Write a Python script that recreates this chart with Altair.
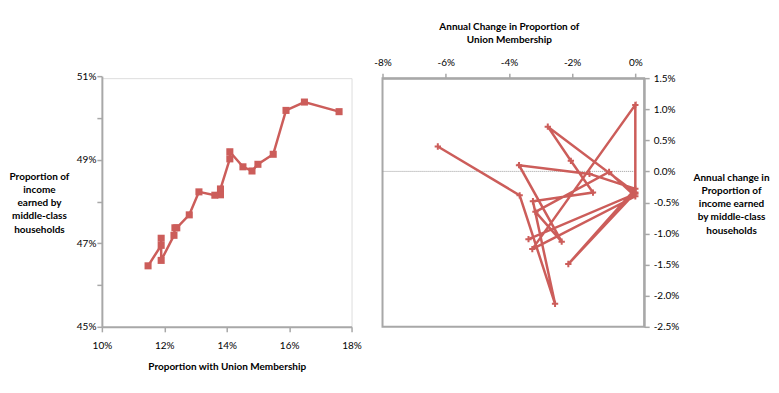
import altair as alt
import pandas as pd

# Left panel: levels over time (time order, earliest first), in percent
union_share = [17.6, 16.49, 15.9, 15.49, 15.0, 14.81, 14.52, 14.1, 14.1, 13.8, 13.8,
               13.62, 13.11, 12.8, 12.4, 12.34, 12.31, 11.9, 11.9, 11.9, 11.48]
income_share = [50.15, 50.38, 50.18, 49.13, 48.89, 48.73, 48.83, 49.19, 49.02, 48.3, 48.16,
                48.15, 48.23, 47.68, 47.37, 47.37, 47.19, 46.59, 47.12, 46.95, 46.46]

# Right panel: annual changes (time order), in percent
union_change = [-6.25, -3.66, -2.54, -3.24, -1.34, -2.04, -2.77, 0.0, -2.12, 0.0,
                -1.45, -3.68, -2.33, -3.16, -0.83, 0.0, -3.26, 0.0, 0.0, -3.38]
income_change = [0.40, -0.385, -2.13, -0.48, -0.34, 0.17, 0.72, -0.34, -1.49, -0.28,
                 -0.04, 0.10, -1.13, -0.65, -0.01, -0.40, -1.25, 1.07, -0.36, -1.09]

left_x_ticks = [10, 12, 14, 16, 18]
left_y_ticks = [45, 46, 47, 48, 49, 50, 51]
right_x_ticks = [-8, -6, -4, -2, 0]
right_y_ticks = [1.5, 1.0, 0.5, 0.0, -0.5, -1.0, -1.5, -2.0, -2.5]

RED = "#cc5d5a"
GRAY = "#a8a8a8"
FONT = "Lato"

left_df = pd.DataFrame({"t": range(len(union_share)), "u": union_share, "inc": income_share})
# right panel plotted as fractions so the axes can use percent formats
right_df = pd.DataFrame({"t": range(len(union_change)),
                         "du": [v / 100 for v in union_change],
                         "di": [v / 100 for v in income_change]})
zero_df = pd.DataFrame({"du": [-0.08], "du2": [0.0], "di": [0.0]})

axis_common = dict(
    domainColor=GRAY, domainWidth=2, tickColor=GRAY, tickWidth=1.5, tickSize=5,
    grid=False, labelFont=FONT, labelFontSize=10, labelColor="#000000", labelOverlap=False,
    labelFlush=False,
    titleFont=FONT, titleFontSize=10, titleFontWeight="bold", titleColor="#000000",
)

lx = alt.X("u:Q", scale=alt.Scale(domain=[10, 18], nice=False, zero=False),
           axis=alt.Axis(values=left_x_ticks, labelExpr="datum.value + '%'",
                         title="Proportion with Union Membership", labelPadding=9,
                         titlePadding=11, **axis_common))
ly = alt.Y("inc:Q", scale=alt.Scale(domain=[45, 51], nice=False, zero=False, range=[249, -2]),
           axis=alt.Axis(values=left_y_ticks,
                         labelExpr="datum.value % 2 == 1 ? datum.value + '%' : ''",
                         title=["Proportion of", "income", "earned by", "middle-class", "households"],
                         titleAngle=0, titleAlign="center", titleBaseline="top",
                         titleX=-63, titleY=93, titleLineHeight=13.3,
                         labelPadding=1, **axis_common))

left_base = alt.Chart(left_df).encode(x=lx, y=ly, order="t:Q")
left = alt.layer(
    left_base.mark_line(color=RED, strokeWidth=2.5),
    left_base.mark_point(shape="square", filled=True, color=RED, size=50, opacity=1),
).properties(width=250, height=249)

RX_SCALE = alt.Scale(domain=[-0.08, 0.0028], nice=False, zero=False)
RY_SCALE = alt.Scale(domain=[-0.025, 0.015], nice=False, zero=False)
HYPHEN = "replace(datum.label, '\u2212', '-')"

rx = alt.X("du:Q", scale=RX_SCALE,
           axis=alt.Axis(orient="top", values=[v / 100 for v in right_x_ticks], format=".0%",
                         labelExpr=HYPHEN,
                         title=["Annual Change in Proportion of", "Union Membership"],
                         titleX=126.5, titleAlign="center", titleLineHeight=12.7,
                         labelPadding=6, titlePadding=13, **axis_common))
ry = alt.Y("di:Q", scale=RY_SCALE,
           axis=alt.Axis(orient="right", values=[v / 100 for v in right_y_ticks], format=".1%",
                         labelExpr=HYPHEN,
                         title=["Annual change in", "Proportion of", "income earned",
                                "by middle-class", "households"],
                         titleAngle=0, titleAlign="center", titleBaseline="top",
                         titleX=87, titleY=94, titleLineHeight=13.3,
                         labelPadding=4, **axis_common))

zero_rule = alt.Chart(zero_df).mark_rule(color="#9a9a9a", strokeDash=[1, 1], strokeWidth=1).encode(
    x=rx, x2="du2:Q", y=ry,
)

right_base = alt.Chart(right_df).encode(x=rx, y=ry, order="t:Q")
right = alt.layer(
    zero_rule,
    right_base.mark_line(color=RED, strokeWidth=2.5),
    right_base.mark_point(shape="M-1,0L1,0M0,-1L0,1", filled=False, color=RED,
                          size=40, strokeWidth=2, opacity=1),
).properties(width=262, height=249,
             view=alt.ViewBackground(stroke=GRAY, strokeWidth=2))

chart = alt.hconcat(left, right, spacing=31, bounds="flush").properties(
    padding={"left": 0, "top": 12, "right": 0, "bottom": 0}
).configure_view(stroke=None).configure(font=FONT)

chart.save("out.html", embed_options={"renderer": "svg", "actions": False})
